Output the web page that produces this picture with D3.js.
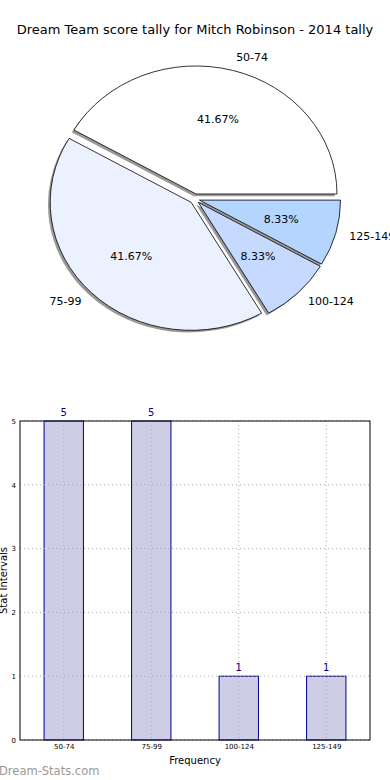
<!DOCTYPE html>
<html><head><meta charset="utf-8">
<script src="https://cdn.jsdelivr.net/npm/d3@7"></script>
<style>body{margin:0;background:#fff;}svg{display:block;font-family:"DejaVu Sans",sans-serif;}</style>
</head><body>
<svg id="c" width="390" height="780"></svg>
<script>
const title = "Dream Team score tally for Mitch Robinson - 2014 tally";
const categories = ["50-74", "75-99", "100-124", "125-149"];
const counts = [5, 5, 1, 1];
const sliceColors = ["#ffffff", "#ebf1fe", "#c6d9fe", "#b4d5fe"];
const yTicks = [0, 1, 2, 3, 4, 5];

const svg = d3.select("#c");
svg.append("text").attr("x", 195).attr("y", 34).attr("text-anchor", "middle")
  .attr("font-size", 13).attr("fill", "#000").text(title);

// ---- Pie (elliptical, matplotlib style, start at 0deg CCW) ----
const cx = 194.7, cy = 198.8, rx = 141, ry = 128, explode = 5;
const total = d3.sum(counts);
const pie = d3.pie().sort(null).value(d => d)
  .startAngle(Math.PI / 2).endAngle(Math.PI / 2 - 2 * Math.PI);
const arcs = pie(counts);
const arc = d3.arc().innerRadius(0).outerRadius(1);
const pieG = svg.append("g");
arcs.forEach((a, i) => {
  const mid = (a.startAngle + a.endAngle) / 2;
  const ox = cx + Math.sin(mid) * explode, oy = cy - Math.cos(mid) * explode;
  pieG.append("path").attr("d", arc(a))
    .attr("transform", `translate(${ox - 2.2},${oy + 2.2}) scale(${rx},${ry})`)
    .attr("fill", "#000").attr("fill-opacity", 0.4).attr("stroke", "none");
});
arcs.forEach((a, i) => {
  const mid = (a.startAngle + a.endAngle) / 2;
  const ox = cx + Math.sin(mid) * explode, oy = cy - Math.cos(mid) * explode;
  pieG.append("path").attr("d", arc(a))
    .attr("transform", `translate(${ox},${oy}) scale(${rx},${ry})`)
    .attr("fill", sliceColors[i]).attr("stroke", "#000")
    .attr("stroke-width", 0.8).attr("vector-effect", "non-scaling-stroke");
  const sx = Math.sin(mid), sy = -Math.cos(mid);
  pieG.append("text").attr("x", ox + 0.6 * rx * sx).attr("y", oy + 0.6 * ry * sy)
    .attr("text-anchor", "middle").attr("dominant-baseline", "central")
    .attr("font-size", 11).text((counts[i] / total * 100).toFixed(2) + "%");
  pieG.append("text").attr("x", ox + 1.1 * rx * sx).attr("y", oy + 1.1 * ry * sy)
    .attr("text-anchor", sx >= 0 ? "start" : "end").attr("dominant-baseline", "central")
    .attr("font-size", 11).text(categories[i]);
});

// ---- Bar chart ----
const L = 20, R = 370, T = 421, B = 740;
const x = d3.scaleLinear().domain([-0.5, 3.5]).range([L, R]);
const y = d3.scaleLinear().domain([0, 5]).range([B, T]);
const bw = 0.45;
const g = svg.append("g");
// bars
g.selectAll("rect.bar").data(counts).join("rect").attr("class", "bar")
  .attr("x", (d, i) => x(i - bw / 2)).attr("width", x(bw) - x(0))
  .attr("y", d => y(d)).attr("height", d => y(0) - y(d))
  .attr("fill", "#cdcde6").attr("stroke", "#00008b").attr("stroke-width", 1);
// grid (drawn over bars)
categories.forEach((c, i) => {
  g.append("line").attr("x1", x(i)).attr("x2", x(i)).attr("y1", T).attr("y2", B)
    .attr("stroke", "#a8a8b4").attr("stroke-width", 1).attr("stroke-dasharray", "1,3");
});
yTicks.forEach(t => {
  g.append("line").attr("x1", L).attr("x2", R).attr("y1", y(t)).attr("y2", y(t))
    .attr("stroke", "#a8a8b4").attr("stroke-width", 1).attr("stroke-dasharray", "1,3");
});
// value labels
g.selectAll("text.val").data(counts).join("text").attr("class", "val")
  .attr("x", (d, i) => x(i)).attr("y", d => y(d) - 5)
  .attr("text-anchor", "middle").attr("font-size", 10).attr("fill", "#00008b").text(d => d);
// frame
g.append("rect").attr("x", L).attr("y", T).attr("width", R - L).attr("height", B - T)
  .attr("fill", "none").attr("stroke", "#000").attr("stroke-width", 1);
// axes
const yAxis = d3.axisLeft(y).tickValues(yTicks).tickFormat(d3.format("d")).tickSize(0).tickPadding(4);
const ya = g.append("g").attr("transform", `translate(${L},0)`).call(yAxis);
ya.select(".domain").remove();
ya.selectAll("text").attr("font-size", 7).attr("font-family", "DejaVu Sans").attr("fill", "#000");
const xAxis = d3.axisBottom(x).tickValues(d3.range(categories.length))
  .tickFormat(i => categories[i]).tickSize(0).tickPadding(4);
const xa = g.append("g").attr("transform", `translate(0,${B})`).call(xAxis);
xa.select(".domain").remove();
xa.selectAll("text").attr("font-size", 7).attr("font-family", "DejaVu Sans").attr("fill", "#000");
// axis labels
svg.append("text").attr("x", (L + R) / 2).attr("y", 764).attr("text-anchor", "middle")
  .attr("font-size", 10).text("Frequency");
svg.append("text").attr("transform", `translate(7,${(T + B) / 2}) rotate(-90)`)
  .attr("text-anchor", "middle").attr("font-size", 10).text("Stat Intervals");
// watermark
svg.append("text").attr("x", -1).attr("y", 775).attr("font-size", 11.5)
  .attr("fill", "#999").text("Dream-Stats.com");
</script>
</body></html>
